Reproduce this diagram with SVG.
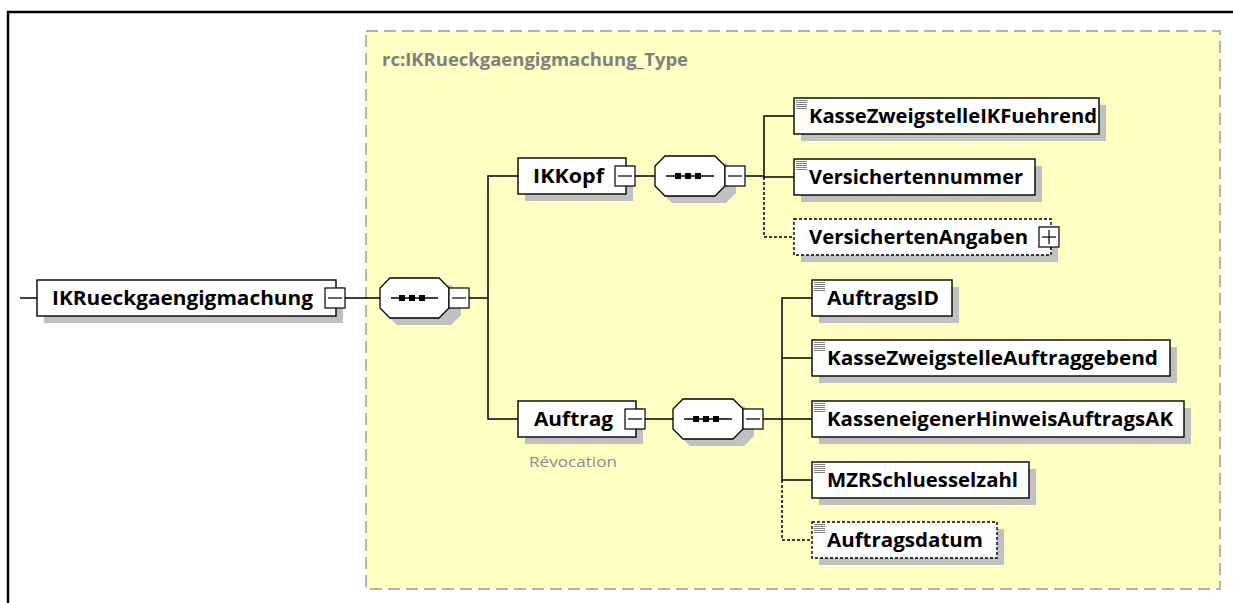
<svg xmlns="http://www.w3.org/2000/svg" width="1233" height="603" viewBox="0 0 1233 603">
<style>
.lbl{font-family:"Open Sans","Liberation Sans",sans-serif;font-weight:bold;font-size:20px;fill:#000}
.title{font-family:"Open Sans","Liberation Sans",sans-serif;font-weight:bold;font-size:17px;fill:#808080}
.note{font-family:"Open Sans","Liberation Sans",sans-serif;font-size:15px;fill:#8c8c8c}
.box{fill:#fff;stroke:#000;stroke-width:1.4}
.dbox{fill:#fff;stroke:#000;stroke-width:1.4;stroke-dasharray:3 2}
.sh{fill:#c0c0c0}
.ln{stroke:#000;stroke-width:1.5;fill:none}
.dln{stroke:#000;stroke-width:1.5;fill:none;stroke-dasharray:3 2}
.ic{stroke:#808080;stroke-width:1}
</style>
<defs>
<g id="minus"><rect x="0" y="0" width="20" height="20" fill="#fff" stroke="#000" stroke-width="1.2"/><line x1="3" y1="10" x2="17" y2="10" stroke="#000" stroke-width="1.2"/></g>
<g id="plus"><rect x="0" y="0" width="20" height="20" fill="#fff" stroke="#000" stroke-width="1.2"/><line x1="3" y1="10" x2="17" y2="10" stroke="#000" stroke-width="1.2"/><line x1="10" y1="3" x2="10" y2="17" stroke="#000" stroke-width="1.2"/></g>
<g id="icon"><line class="ic" x1="2" y1="2.5" x2="13" y2="2.5"/><line class="ic" x1="2" y1="4.5" x2="13" y2="4.5"/><line class="ic" x1="2" y1="6.5" x2="13" y2="6.5"/><line class="ic" x1="2" y1="8.5" x2="13" y2="8.5"/><line class="ic" x1="2" y1="10.5" x2="13" y2="10.5"/></g>
</defs>
<rect x="0" y="0" width="1233" height="603" fill="#fff"/>
<path d="M8 603 V12 H1233" fill="none" stroke="#000" stroke-width="2.5"/>
<rect x="366" y="31" width="854" height="558" fill="#ffffc4" stroke="#9a9a9a" stroke-width="1.5" stroke-dasharray="12 6"/>
<text class="title" x="382" y="66" textLength="306" lengthAdjust="spacingAndGlyphs">rc:IKRueckgaengigmachung_Type</text>

<g id="connectors">
<line class="ln" x1="20" y1="298" x2="37" y2="298"/>
<line class="ln" x1="345" y1="298" x2="380" y2="298"/>
<line class="ln" x1="468" y1="298" x2="488" y2="298"/>
<path class="ln" d="M518 176 H488 V419 H518"/>
<line class="ln" x1="635" y1="176" x2="655" y2="176"/>
<line class="ln" x1="744" y1="176" x2="764" y2="176"/>
<path class="ln" d="M794 116 H764 V177 H794"/>
<path class="dln" d="M764 177 V237 H794"/>
<line class="ln" x1="645" y1="419" x2="673" y2="419"/>
<line class="ln" x1="762" y1="419" x2="782" y2="419"/>
<path class="ln" d="M812 298 H782 V480 H812"/>
<line class="ln" x1="782" y1="358" x2="812" y2="358"/>
<line class="ln" x1="782" y1="419" x2="812" y2="419"/>
<path class="dln" d="M782 480 V540 H812"/>
</g>

<g id="IKRueckgaengigmachung">
<rect class="sh" x="44" y="287" width="299" height="36"/>
<rect class="box" x="37" y="280" width="299" height="36"/>
<use href="#minus" x="325" y="288"/>
<text class="lbl" x="52" y="305" textLength="261" lengthAdjust="spacingAndGlyphs">IKRueckgaengigmachung</text>
</g>

<g id="seq1">
<path class="sh" d="M397 285 H451 L461 295 V315 L451 325 H397 L387 315 V295 Z"/>
<path d="M390 278 H439 L449 288 V308 L439 318 H390 L380 308 V288 Z" fill="#fff" stroke="#000" stroke-width="1.3"/>
<line class="ln" x1="391" y1="298" x2="438" y2="298"/>
<rect x="399" y="295" width="6" height="6" fill="#000"/><rect x="409" y="295" width="6" height="6" fill="#000"/><rect x="419" y="295" width="6" height="6" fill="#000"/>
<use href="#minus" x="449" y="288"/>
</g>

<g id="IKKopf">
<rect class="sh" x="525" y="165" width="108" height="36"/>
<rect class="box" x="518" y="158" width="108" height="36"/>
<use href="#minus" x="615" y="166"/>
<text class="lbl" x="533" y="183" textLength="71" lengthAdjust="spacingAndGlyphs">IKKopf</text>
</g>

<g id="seq2">
<path class="sh" d="M672 163 H726 L736 173 V193 L726 203 H672 L662 193 V173 Z"/>
<path d="M665 156 H715 L725 166 V186 L715 196 H665 L655 186 V166 Z" fill="#fff" stroke="#000" stroke-width="1.3"/>
<line class="ln" x1="666" y1="176" x2="714" y2="176"/>
<rect x="675" y="173" width="6" height="6" fill="#000"/><rect x="685" y="173" width="6" height="6" fill="#000"/><rect x="695" y="173" width="6" height="6" fill="#000"/>
<use href="#minus" x="725" y="166"/>
</g>

<g id="KasseZweigstelleIKFuehrend">
<rect class="sh" x="801" y="105" width="305" height="36"/>
<rect class="box" x="794" y="98" width="305" height="36"/>
<use href="#icon" x="794" y="98"/>
<text class="lbl" x="809" y="123" textLength="288" lengthAdjust="spacingAndGlyphs">KasseZweigstelleIKFuehrend</text>
</g>

<g id="Versichertennummer">
<rect class="sh" x="801" y="166" width="241" height="36"/>
<rect class="box" x="794" y="159" width="241" height="36"/>
<use href="#icon" x="794" y="159"/>
<text class="lbl" x="809" y="184" textLength="214" lengthAdjust="spacingAndGlyphs">Versichertennummer</text>
</g>

<g id="VersichertenAngaben">
<rect class="sh" x="801" y="226" width="257" height="36"/>
<rect class="dbox" x="794" y="219" width="257" height="36"/>
<use href="#plus" x="1039" y="227"/>
<text class="lbl" x="809" y="244" textLength="219" lengthAdjust="spacingAndGlyphs">VersichertenAngaben</text>
</g>

<g id="Auftrag">
<rect class="sh" x="525" y="408" width="118" height="36"/>
<rect class="box" x="518" y="401" width="118" height="36"/>
<use href="#minus" x="625" y="409"/>
<text class="lbl" x="534" y="426" textLength="79" lengthAdjust="spacingAndGlyphs">Auftrag</text>
<text class="note" x="529" y="467" textLength="88" lengthAdjust="spacingAndGlyphs">Révocation</text>
</g>

<g id="seq3">
<path class="sh" d="M690 406 H744 L754 416 V436 L744 446 H690 L680 436 V416 Z"/>
<path d="M683 399 H733 L743 409 V429 L733 439 H683 L673 429 V409 Z" fill="#fff" stroke="#000" stroke-width="1.3"/>
<line class="ln" x1="684" y1="419" x2="732" y2="419"/>
<rect x="693" y="416" width="6" height="6" fill="#000"/><rect x="703" y="416" width="6" height="6" fill="#000"/><rect x="713" y="416" width="6" height="6" fill="#000"/>
<use href="#minus" x="743" y="409"/>
</g>

<g id="AuftragsID">
<rect class="sh" x="819" y="287" width="140" height="36"/>
<rect class="box" x="812" y="280" width="140" height="36"/>
<use href="#icon" x="812" y="280"/>
<text class="lbl" x="827" y="305" textLength="112" lengthAdjust="spacingAndGlyphs">AuftragsID</text>
</g>

<g id="KasseZweigstelleAuftraggebend">
<rect class="sh" x="819" y="347" width="358" height="36"/>
<rect class="box" x="812" y="340" width="358" height="36"/>
<use href="#icon" x="812" y="340"/>
<text class="lbl" x="827" y="365" textLength="331" lengthAdjust="spacingAndGlyphs">KasseZweigstelleAuftraggebend</text>
</g>

<g id="KasseneigenerHinweisAuftragsAK">
<rect class="sh" x="819" y="408" width="372" height="36"/>
<rect class="box" x="812" y="401" width="372" height="36"/>
<use href="#icon" x="812" y="401"/>
<text class="lbl" x="827" y="426" textLength="346" lengthAdjust="spacingAndGlyphs">KasseneigenerHinweisAuftragsAK</text>
</g>

<g id="MZRSchluesselzahl">
<rect class="sh" x="819" y="469" width="217" height="36"/>
<rect class="box" x="812" y="462" width="217" height="36"/>
<use href="#icon" x="812" y="462"/>
<text class="lbl" x="827" y="487" textLength="191" lengthAdjust="spacingAndGlyphs">MZRSchluesselzahl</text>
</g>

<g id="Auftragsdatum">
<rect class="sh" x="819" y="529" width="185" height="36"/>
<rect class="dbox" x="812" y="522" width="185" height="36"/>
<use href="#icon" x="812" y="522"/>
<text class="lbl" x="827" y="547" textLength="156" lengthAdjust="spacingAndGlyphs">Auftragsdatum</text>
</g>
</svg>
